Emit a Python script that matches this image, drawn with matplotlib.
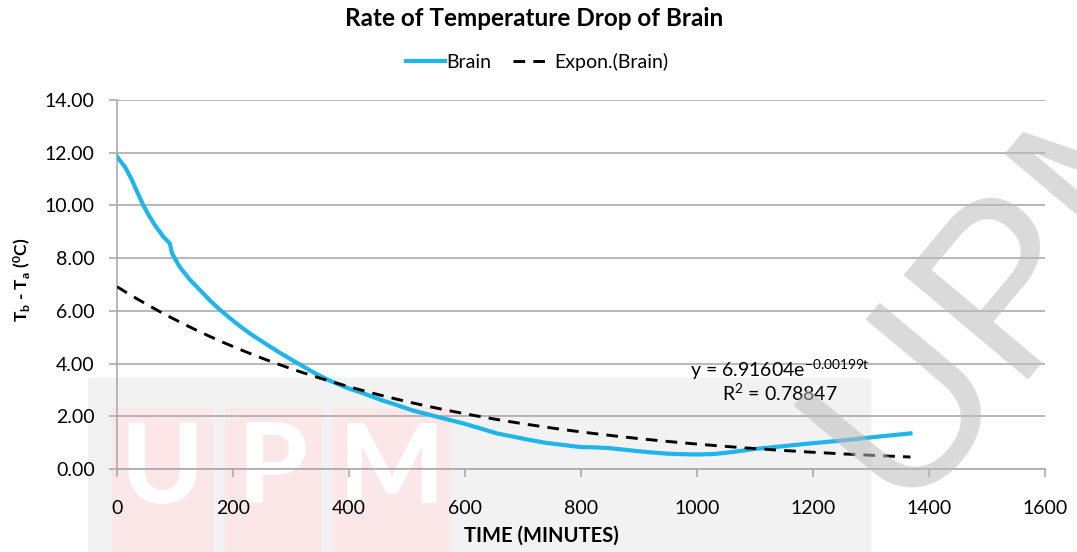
import numpy as np
import matplotlib.pyplot as plt
from matplotlib.patches import Rectangle

# Brain minus ambient temperature over time
time_min = [0, 14, 25, 34, 45, 55, 65, 80, 91, 93, 95, 108, 125, 143, 160,
            178, 195, 212, 230, 250, 280, 310, 340, 367, 400, 425, 455, 482,
            510, 540, 570, 597, 625, 655, 685, 712, 740, 770, 800, 825, 850,
            880, 910, 950, 980, 1000, 1030, 1060, 1100, 1150, 1200, 1250,
            1300, 1340, 1368]
brain_diff = [11.85, 11.45, 11.0, 10.55, 10.02, 9.62, 9.26, 8.81, 8.56, 8.37,
              8.18, 7.67, 7.2, 6.79, 6.40, 6.03, 5.72, 5.42, 5.13, 4.84, 4.42,
              4.03, 3.65, 3.35, 3.05, 2.87, 2.62, 2.43, 2.22, 2.05, 1.88, 1.73,
              1.55, 1.35, 1.22, 1.10, 0.99, 0.91, 0.83, 0.82, 0.79, 0.72, 0.65,
              0.58, 0.56, 0.55, 0.57, 0.64, 0.76, 0.87, 0.98, 1.08, 1.20, 1.29,
              1.35]

# exponential trendline coefficients
fit_a = 6.91604
fit_k = 0.00199
r_squared = 0.78847

x_ticks = [0, 200, 400, 600, 800, 1000, 1200, 1400, 1600]
y_ticks = [0, 2, 4, 6, 8, 10, 12, 14]

plt.rcParams['font.family'] = ['Lato', 'DejaVu Sans']
plt.rcParams['mathtext.fontset'] = 'custom'
plt.rcParams['mathtext.rm'] = 'Lato'
plt.rcParams['mathtext.it'] = 'Lato:italic'
plt.rcParams['mathtext.bf'] = 'Lato:bold'

W, H = 1077, 552
fig = plt.figure(figsize=(W / 100, H / 100), dpi=100)
ax = fig.add_axes([117 / W, 1 - 469 / H, 928 / W, 369 / H])
ax.set_facecolor('none')

# faint background stamp
fig.add_artist(Rectangle((88 / W, 0), (870 - 88) / W, (552 - 378) / H,
                         transform=fig.transFigure, color='#F2F2F2', zorder=-5))
for (x0, x1), letter in zip([(112, 212), (225, 320), (333, 450)], 'UPM'):
    fig.add_artist(Rectangle((x0 / W, 0), (x1 - x0) / W, (552 - 408) / H,
                             transform=fig.transFigure, color='#FBE6E8', zorder=-4))
    fig.text((x0 + x1) / 2 / W, 1 - 503 / H, letter, ha='center', va='baseline',
             fontsize=80, weight='black', color='white', zorder=-3)

ax.plot(time_min, brain_diff, color='#1DB5EA', lw=3.0, label='Brain', zorder=3)
t_fit = np.linspace(0, time_min[-1], 300)
ax.plot(t_fit, fit_a * np.exp(-fit_k * t_fit), color='black', lw=2.1,
        dashes=(4, 2.8), label='Expon.(Brain)', zorder=4)

ax.set_xlim(0, 1600)
ax.set_ylim(0, 14)
ax.set_xticks(x_ticks)
ax.set_yticks(y_ticks)
ax.set_yticklabels([f'{v:.2f}' for v in y_ticks])
ax.yaxis.grid(True, color='#ABABAB', lw=1.2)
ax.set_axisbelow(True)
for s in ['top', 'right']:
    ax.spines[s].set_visible(False)
for s in ['left', 'bottom']:
    ax.spines[s].set_color('#ABABAB')
    ax.spines[s].set_linewidth(1.2)
ax.tick_params(axis='y', length=6, width=1.2, color='#ABABAB', pad=10, labelsize=14)
ax.tick_params(axis='x', length=6, width=1.2, color='#ABABAB', pad=16, labelsize=14)

ax.text(1143, 3.76, f'y = {fit_a:.5f}e' + r'$^{\mathregular{-' + f'{fit_k:.5f}' + r't}}$',
        ha='center', va='center', fontsize=14)
ax.text(1143, 2.88, r'R$^{\mathregular{2}}$ = ' + f'{r_squared:.5f}',
        ha='center', va='center', fontsize=14)

fig.text(534 / W, 1 - 18 / H, 'Rate of Temperature Drop of Brain',
         ha='center', va='center', fontsize=17.5, weight='bold')
fig.legend(loc='center', bbox_to_anchor=(537 / W, 1 - 62 / H), ncol=2,
           frameon=False, fontsize=14, handlelength=2.0, handletextpad=0.1,
           columnspacing=1.1)
fig.text(22 / W, 1 - 280 / H,
         r'T$_{\mathregular{b}}$ - T$_{\mathregular{a}}$ ($^{\mathregular{0}}$C)',
         rotation=90, ha='center', va='center', fontsize=12.5, weight='bold')
fig.text(541 / W, 1 - 536 / H, 'TIME (MINUTES)', ha='center', va='center',
         fontsize=14.5, weight='bold')

# diagonal watermark
fig.text(900 / W, 1 - 510 / H, 'UPM', rotation=50, rotation_mode='anchor',
         ha='left', va='baseline', fontsize=170, family='Liberation Sans',
         color='#BBBBBB', alpha=0.55, zorder=10)

fig.savefig('out.png', dpi=100)
